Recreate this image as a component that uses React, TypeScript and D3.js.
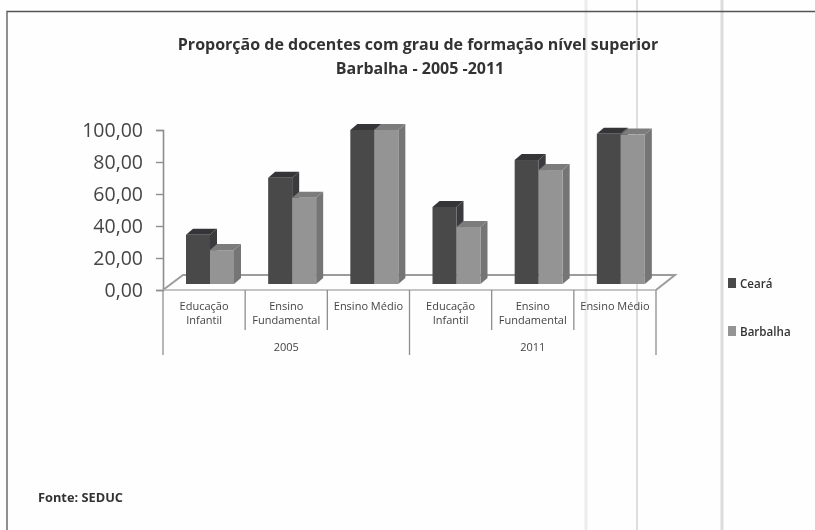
import { useEffect, useRef } from "react";
import * as d3 from "d3";

const width = 815;
const height = 530;

const years = ["2005", "2011"];
const categories = ["Educação Infantil", "Ensino Fundamental", "Ensino Médio"];
const seriesNames = ["Ceará", "Barbalha"];
const ceara = [32, 69, 100, 50, 80.5, 97.5];
const barbalha = [22, 56, 100, 37, 74, 97];
const yTicks = [0, 20, 40, 60, 80, 100];
const scanLines = [586, 637, 722];

const colors: Record<string, { front: string; top: string; side: string }> = {
  Ceará: { front: "#48484a", top: "#363638", side: "#3a3a3c" },
  Barbalha: { front: "#949494", top: "#7c7c7c", side: "#747474" },
};

const font = "'Open Sans', 'Noto Sans', sans-serif";

export default function App() {
  const ref = useRef<SVGSVGElement>(null);

  useEffect(() => {
    const svg = d3.select(ref.current!);
    svg.selectAll("*").remove();

    const defs = svg.append("defs");
    const filter = defs
      .append("filter")
      .attr("id", "scan")
      .attr("x", 0)
      .attr("y", 0)
      .attr("width", 1)
      .attr("height", 1);
    filter.append("feGaussianBlur").attr("stdDeviation", 0.7);

    svg
      .append("rect")
      .attr("width", width)
      .attr("height", height)
      .attr("fill", "#fefefe");

    const root = svg.append("g").attr("filter", "url(#scan)");

    root
      .append("rect")
      .attr("width", width)
      .attr("height", height)
      .attr("fill", "#fefefe");

    // scanner streaks
    root
      .selectAll("line.scan")
      .data(scanLines)
      .join("line")
      .attr("class", "scan")
      .attr("x1", (d) => d)
      .attr("x2", (d) => d)
      .attr("y1", 0)
      .attr("y2", height)
      .attr("stroke", (d) => (d === 637 ? "#c8c8c8" : d === 586 ? "#ececec" : "#dcdcdc"))
      .attr("stroke-width", (d) => (d === 637 ? 1.2 : 3));

    // page frame
    root
      .append("path")
      .attr("d", `M7,${height} V11.5 H${width}`)
      .attr("fill", "none")
      .attr("stroke", "#555")
      .attr("stroke-width", 1.3);

    const title = root
      .append("text")
      .attr("text-anchor", "middle")
      .attr("font-family", font)
      .attr("font-weight", 700)
      .attr("font-size", 16)
      .attr("fill", "#333");
    title.append("tspan").attr("x", 418).attr("y", 50).text("Proporção de docentes com grau de formação nível superior");
    title.append("tspan").attr("x", 420).attr("y", 74).text("Barbalha - 2005 -2011");

    const labels = years.flatMap((y) => categories.map((c) => `${y}|${c}`));
    const x0 = d3.scaleBand<string>().domain(labels).range([163, 656]);
    const x1 = d3.scaleBand<string>().domain(seriesNames).range([23, 71]);
    const yAxisScale = d3.scaleLinear().domain([0, 100]).range([290, 130]);
    const yBar = d3.scaleLinear().domain([0, 100]).range([284, 130]);
    const dx = 7;
    const dy = 6;

    // floor
    const floorTop = yAxisScale(0) - 15;
    root
      .append("path")
      .attr(
        "d",
        `M${x0.range()[0]},${yAxisScale(0)} L${x0.range()[0] + 20},${floorTop} H${x0.range()[1] + 19} L${x0.range()[1]},${yAxisScale(0)}`,
      )
      .attr("fill", "none")
      .attr("stroke", "#9c9c9c")
      .attr("stroke-width", 2);

    // value axis
    const axis = root
      .append("g")
      .attr("transform", `translate(${x0.range()[0]},0)`)
      .call(
        d3
          .axisLeft(yAxisScale)
          .tickValues(yTicks)
          .tickSize(7)
          .tickPadding(13)
          .tickFormat((d) => (d as number).toFixed(2).replace(".", ",")),
      );
    axis.select(".domain").attr("stroke", "#8e8e8e").attr("stroke-width", 1.6);
    axis.selectAll("line").attr("stroke", "#8e8e8e").attr("stroke-width", 1.4);
    axis
      .selectAll("text")
      .attr("font-family", font)
      .attr("font-size", 19.5)
      .attr("fill", "#444");

    // category axis, two levels
    root
      .append("line")
      .attr("x1", x0.range()[0])
      .attr("x2", x0.range()[1])
      .attr("y1", yAxisScale(0))
      .attr("y2", yAxisScale(0))
      .attr("stroke", "#b0b0b0")
      .attr("stroke-width", 1.4);

    const step = x0.step();
    d3.range(labels.length + 1).forEach((i) => {
      const outer = i % categories.length === 0;
      const x = x0.range()[0] + i * step;
      root
        .append("line")
        .attr("x1", x)
        .attr("x2", x)
        .attr("y1", yAxisScale(0))
        .attr("y2", outer ? 355 : 330)
        .attr("stroke", "#8e8e8e")
        .attr("stroke-width", 1.3);
    });

    const lineBreaks: Record<string, string[]> = {
      "Educação Infantil": ["Educação", "Infantil"],
      "Ensino Fundamental": ["Ensino", "Fundamental"],
      "Ensino Médio": ["Ensino Médio"],
    };
    labels.forEach((label) => {
      const cat = label.split("|")[1];
      const t = root
        .append("text")
        .attr("text-anchor", "middle")
        .attr("font-family", font)
        .attr("font-size", 11)
        .attr("fill", "#444");
      lineBreaks[cat].forEach((part, i) => {
        t.append("tspan")
          .attr("x", x0(label)! + step / 2)
          .attr("y", 310 + i * 14)
          .text(part);
      });
    });
    years.forEach((year, i) => {
      root
        .append("text")
        .attr("x", x0.range()[0] + (i + 0.5) * categories.length * step)
        .attr("y", 350.5)
        .attr("text-anchor", "middle")
        .attr("font-family", font)
        .attr("font-size", 11)
        .attr("fill", "#444")
        .text(year);
    });

    // 3D bars
    const seriesValues = [ceara, barbalha];
    labels.forEach((label, i) => {
      seriesNames.forEach((name, s) => {
        const value = seriesValues[s][i];
        const left = x0(label)! + x1(name)!;
        const right = left + x1.bandwidth();
        const top = yBar(value);
        const bottom = yBar(0);
        const c = colors[name];
        const g = root.append("g");
        g.append("path")
          .attr("d", `M${right},${top} L${right + dx},${top - dy} V${bottom - dy} L${right},${bottom} Z`)
          .attr("fill", c.side);
        g.append("path")
          .attr("d", `M${left},${top} L${left + dx},${top - dy} H${right + dx} L${right},${top} Z`)
          .attr("fill", c.top);
        g.append("rect")
          .attr("x", left)
          .attr("y", top)
          .attr("width", x1.bandwidth())
          .attr("height", bottom - top)
          .attr("fill", c.front);
      });
    });

    // legend
    const legendY = d3.scalePoint<string>().domain(seriesNames).range([283, 331]);
    seriesNames.forEach((name) => {
      root
        .append("rect")
        .attr("x", 728)
        .attr("y", legendY(name)! - 5)
        .attr("width", 8)
        .attr("height", 10)
        .attr("fill", colors[name].front);
      root
        .append("text")
        .attr("x", 740)
        .attr("y", legendY(name)! + 4.5)
        .attr("font-family", font)
        .attr("font-size", 11.6)
        .attr("font-weight", 600)
        .attr("fill", "#333")
        .text(name);
    });

    root
      .append("text")
      .attr("x", 38)
      .attr("y", 502)
      .attr("font-family", font)
      .attr("font-size", 12.8)
      .attr("font-weight", 700)
      .attr("fill", "#333")
      .text("Fonte: SEDUC");
  }, []);

  return (
    <svg
      ref={ref}
      width={width}
      height={height}
      viewBox={`0 0 ${width} ${height}`}
      style={{ position: "fixed", left: 0, top: 0 }}
    />
  );
}
